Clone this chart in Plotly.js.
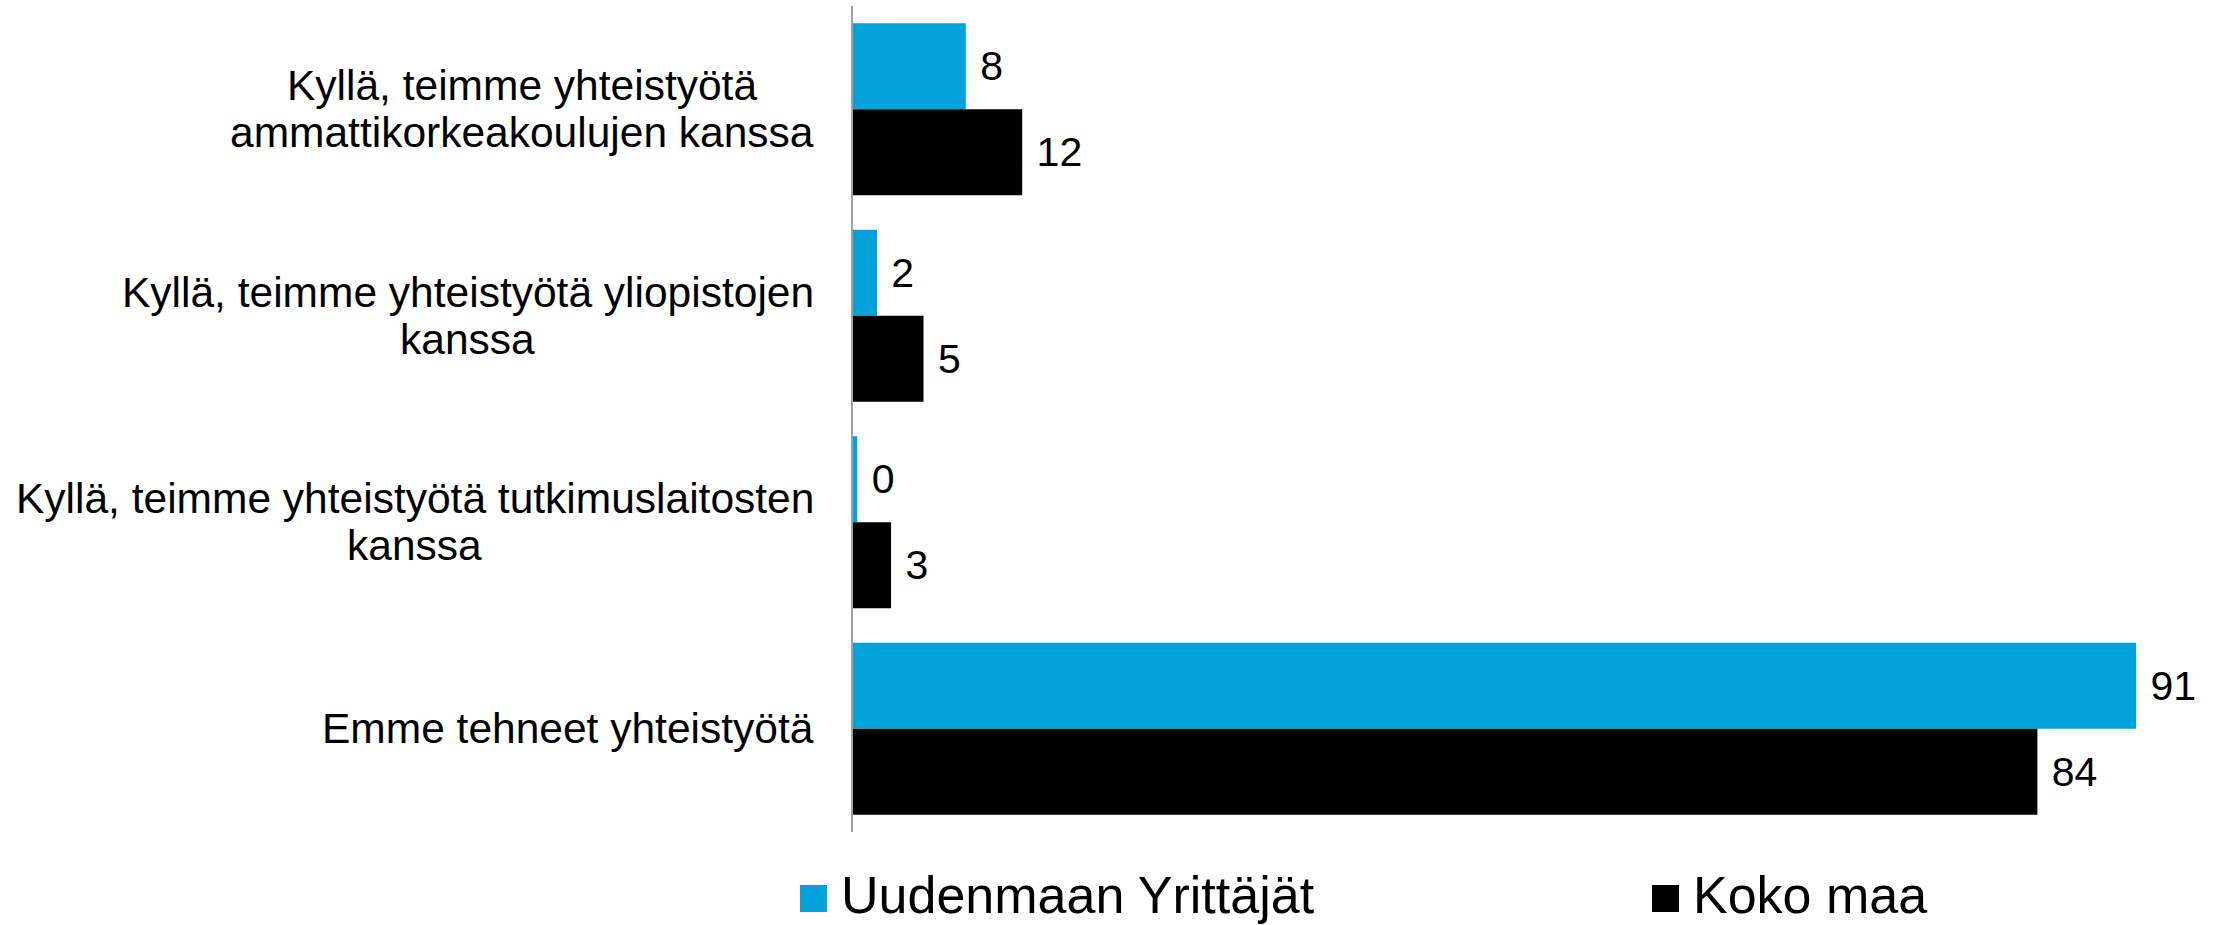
<!DOCTYPE html>
<html>
<head>
<meta charset="utf-8">
<script src="https://cdn.plot.ly/plotly-3.0.1.min.js"></script>
<style>
  html, body { margin: 0; padding: 0; background: #ffffff; }
  #chart { width: 2213px; height: 925px; }
</style>
</head>
<body>
<div id="chart"></div>
<script>
// ---- data ----
const categories = [
  "Kyllä, teimme yhteistyötä ammattikorkeakoulujen kanssa",
  "Kyllä, teimme yhteistyötä yliopistojen kanssa",
  "Kyllä, teimme yhteistyötä tutkimuslaitosten kanssa",
  "Emme tehneet yhteistyötä"
];
const categoryLabelLines = [
  ["Kyllä, teimme yhteistyötä", "ammattikorkeakoulujen kanssa"],
  ["Kyllä, teimme yhteistyötä yliopistojen", "kanssa"],
  ["Kyllä, teimme yhteistyötä tutkimuslaitosten", "kanssa"],
  ["Emme tehneet yhteistyötä"]
];
const seriesNames = ["Uudenmaan Yrittäjät", "Koko maa"];
const uusimaaValues = [8, 1.7, 0.3, 91];
const kokoMaaValues = [12, 5, 2.7, 84];

// ---- styling ----
const W = 2213, H = 925;
const FONT = "'Liberation Sans', Arial, sans-serif";
const BLUE = "#02A3DA";
const BLACK = "#000000";
const margin = { l: 853, r: 20, t: 6, b: 93 };
const pxPerUnit = 14.1;
const xMax = (W - margin.l - margin.r) / pxPerUnit;
const catFont = 42.5, lineStep = 47, labelGap = 39;
const legendFont = 52, valueFont = 41;

const ctx = document.createElement("canvas").getContext("2d");
ctx.font = catFont + "px 'Liberation Sans'";

const annotations = [];
categoryLabelLines.forEach((lines, ci) => {
  const maxW = Math.max(...lines.map(s => ctx.measureText(s).width));
  lines.forEach((line, li) => {
    annotations.push({
      text: line, xref: "paper", x: 0, xanchor: "center",
      xshift: -(labelGap + maxW / 2),
      yref: "y", y: categories[ci], yanchor: "middle",
      yshift: ((lines.length - 1) / 2 - li) * lineStep,
      showarrow: false, font: { family: FONT, size: catFont, color: "#000" }
    });
  });
});

// legend (drawn as squares + text to match the original marker size)
const legendItems = [
  { name: seriesNames[0], color: BLUE, sq: 800 },
  { name: seriesNames[1], color: BLACK, sq: 1652 }
];
const plotBottom = H - margin.b;
const shapes = [];
legendItems.forEach(it => {
  shapes.push({
    type: "rect", xref: "paper", yref: "paper",
    xsizemode: "pixel", ysizemode: "pixel", xanchor: 0, yanchor: 0,
    x0: it.sq - margin.l, x1: it.sq + 27 - margin.l,
    y0: -(885 - plotBottom), y1: -(912 - plotBottom),
    fillcolor: it.color, line: { width: 0 }
  });
  annotations.push({
    text: it.name, xref: "paper", x: 0, xanchor: "left",
    xshift: it.sq + 40 - margin.l,
    yref: "paper", y: 0, yanchor: "middle", yshift: -(895 - plotBottom),
    borderpad: 0,
    showarrow: false, font: { family: FONT, size: legendFont, color: "#000" }
  });
});

const common = {
  type: "bar", orientation: "h", y: categories,
  texttemplate: "\u00a0%{x:.0f}", textposition: "outside",
  textfont: { family: FONT, size: valueFont, color: "#000" },
  constraintext: "none", cliponaxis: false, hoverinfo: "skip", showlegend: false
};
const traces = [
  Object.assign({}, common, { name: seriesNames[0], x: uusimaaValues, marker: { color: BLUE } }),
  Object.assign({}, common, { name: seriesNames[1], x: kokoMaaValues, marker: { color: BLACK } })
];

const layout = {
  width: W, height: H, margin: margin,
  paper_bgcolor: "#fff", plot_bgcolor: "#fff",
  barmode: "group", bargap: 0.167, bargroupgap: 0,
  xaxis: { range: [0, xMax], showgrid: false, zeroline: false, showline: false,
           showticklabels: false, ticks: "", fixedrange: true },
  yaxis: { autorange: "reversed", showgrid: false, zeroline: false,
           showline: true, linecolor: "#A0A0A0", linewidth: 2,
           showticklabels: false, ticks: "", fixedrange: true },
  annotations: annotations, shapes: shapes, showlegend: false,
  font: { family: FONT }
};

Plotly.newPlot("chart", traces, layout, { displayModeBar: false, staticPlot: true });
</script>
</body>
</html>
